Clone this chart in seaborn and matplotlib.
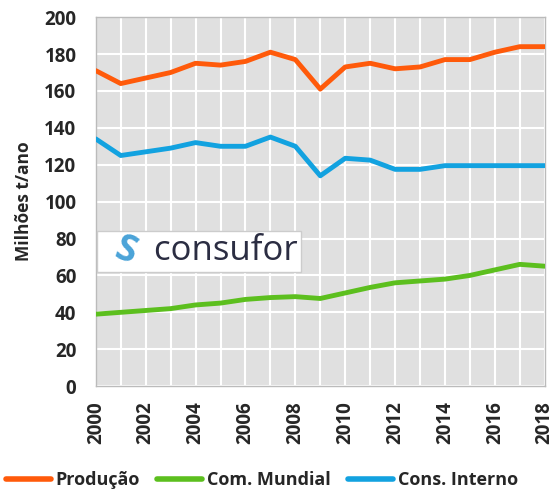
import numpy as np
import pandas as pd
import seaborn as sns
import matplotlib.pyplot as plt

years = list(range(2000, 2019))
producao = [171, 164, 167, 170, 175, 174, 176, 181, 177, 161, 173, 175, 172, 173, 177, 177, 181, 184, 184]
com_mundial = [39, 40, 41, 42, 44, 45, 47, 48, 48.5, 47.5, 50.5, 53.5, 56, 57, 58, 60, 63, 66, 65]
cons_interno = [134, 125, 127, 129, 132, 130, 130, 135, 130, 114, 123.5, 122.5, 117.5, 117.5, 119.5, 119.5, 119.5, 119.5, 119.5]
series = ["Produção", "Com. Mundial", "Cons. Interno"]
colors = ["#FF5A0A", "#5CBF1E", "#12A2E0"]

df = pd.DataFrame({
    "ano": years * 3,
    "valor": producao + com_mundial + cons_interno,
    "serie": [series[0]] * 19 + [series[1]] * 19 + [series[2]] * 19,
})

sns.set_style("white")
plt.rcParams['font.family'] = ['Open Sans', 'DejaVu Sans']

fig = plt.figure(figsize=(5.57, 4.9), dpi=100)
ax = fig.add_axes([0.172, 0.212, 0.806, 0.753])
ax.set_facecolor("#E0E0E0")

sns.lineplot(data=df, x="ano", y="valor", hue="serie", palette=colors,
             linewidth=3.5, ax=ax, zorder=3)

ax.set_xlim(2000, 2018)
ax.set_ylim(0, 200)
ax.set_yticks(range(0, 201, 20))
ax.set_xticks(range(2000, 2019, 2))
ax.set_xticks(years, minor=True)
ax.grid(True, which="both", color="white", linewidth=1.5, zorder=0)
ax.set_axisbelow(True)
ax.tick_params(axis="x", which="both", direction="out", length=5, color="#999999",
               labelrotation=90, labelsize=13.5, pad=6)
ax.tick_params(axis="y", length=0, labelsize=13.5, pad=14)
for lbl in ax.get_xticklabels() + ax.get_yticklabels():
    lbl.set_fontweight("bold")
for s in ax.spines.values():
    s.set_color("#BBBBBB")
    s.set_linewidth(1)

ax.set_xlabel("")
ax.set_ylabel("Milhões t/ano", fontsize=12.5, fontweight="bold", labelpad=8)

# logo watermark
ax.text(0.01, 0.365, "      consufor", transform=ax.transAxes, fontsize=25,
        color="#2B2D42", va="center", ha="left", zorder=4,
        bbox=dict(boxstyle="square,pad=0.1", facecolor="white", edgecolor="#CCCCCC"))
ax.text(0.03, 0.365, "S", transform=ax.transAxes, fontsize=27, fontweight="bold",
        color="#4AA3D8", va="center", ha="left", zorder=5, rotation=-20)

handles, labels = ax.get_legend_handles_labels()
ax.legend(handles, labels, loc="center", bbox_to_anchor=(0.37, -0.255),
          ncol=3, frameon=False, fontsize=13, handlelength=2.5, handletextpad=0.25,
          columnspacing=0.95)
for t in ax.get_legend().get_texts():
    t.set_fontweight("bold")
for h in ax.get_legend().get_lines():
    h.set_linewidth(4)

fig.savefig("out.png", dpi=100)
